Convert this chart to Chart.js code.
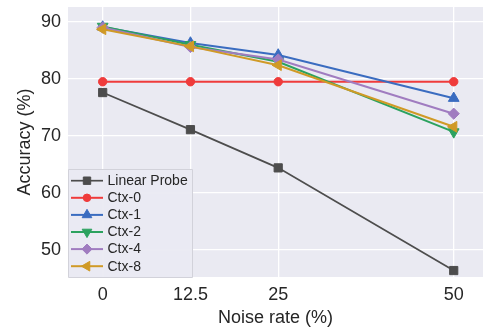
<!DOCTYPE html>
<html>
<head>
<meta charset="utf-8">
<script src="https://cdn.jsdelivr.net/npm/chart.js@4/dist/chart.umd.min.js"></script>
<style>
html,body{margin:0;padding:0;background:#fff;}
#wrap{width:484px;height:329px;position:relative;}
</style>
</head>
<body>
<div id="wrap"><canvas id="c" width="484" height="329"></canvas></div>
<script>
const noiseRates = [0, 12.5, 25, 50];
const xTickLabels = ['0', '12.5', '25', '50'];
const yTickValues = [50, 60, 70, 80, 90];
const seriesNames = ['Linear Probe', 'Ctx-0', 'Ctx-1', 'Ctx-2', 'Ctx-4', 'Ctx-8'];
const linearProbe = [77.6, 71.1, 64.4, 46.4];
const ctx0 = [79.5, 79.5, 79.5, 79.5];
const ctx1 = [89.1, 86.3, 84.2, 76.6];
const ctx2 = [89.2, 86.0, 83.0, 70.7];
const ctx4 = [89.0, 85.6, 83.4, 73.9];
const ctx8 = [88.7, 85.7, 82.4, 71.6];

const seriesValues = [linearProbe, ctx0, ctx1, ctx2, ctx4, ctx8];
const colors = ['#4d4d4d', '#ef3b3b', '#3a6cc0', '#2ca25f', '#a07cc0', '#d09a26'];
const styles = [
  {pointStyle: 'rect', radius: 5.8, rotation: 0},
  {pointStyle: 'circle', radius: 4.2, rotation: 0},
  {pointStyle: 'triangle', radius: 6.2, rotation: 0},
  {pointStyle: 'triangle', radius: 6.2, rotation: 180},
  {pointStyle: 'rectRot', radius: 5.6, rotation: 0},
  {pointStyle: 'triangle', radius: 6.2, rotation: 270}
];
const FONT = '"Liberation Sans", Arial, Helvetica, sans-serif';

const datasets = seriesNames.map((name, i) => ({
  label: name,
  data: noiseRates.map((x, j) => ({x: x, y: seriesValues[i][j]})),
  borderColor: colors[i],
  backgroundColor: colors[i],
  pointBackgroundColor: colors[i],
  pointBorderColor: colors[i],
  pointBorderWidth: 1,
  borderWidth: i === 0 ? 1.7 : 2,
  pointStyle: styles[i].pointStyle,
  pointRadius: styles[i].radius,
  pointRotation: styles[i].rotation,
  pointHoverRadius: styles[i].radius,
  tension: 0,
  order: seriesNames.length - i
}));

const bgPlugin = {
  id: 'bg',
  beforeDraw(chart) {
    const {ctx, chartArea: a} = chart;
    ctx.save();
    ctx.fillStyle = '#eaeaf2';
    ctx.fillRect(a.left, a.top, a.right - a.left, a.bottom - a.top);
    ctx.restore();
  }
};

function drawMarker(ctx, st, x, y) {
  if (Chart.helpers && Chart.helpers.drawPoint) {
    Chart.helpers.drawPoint(ctx, {pointStyle: st.pointStyle, radius: st.radius, rotation: st.rotation, borderWidth: 1}, x, y);
  } else {
    ctx.beginPath(); ctx.arc(x, y, st.radius, 0, Math.PI * 2); ctx.fill();
  }
}

const legendPlugin = {
  id: 'boxLegend',
  afterDatasetsDraw(chart) {
    const {ctx, chartArea: a} = chart;
    const left = a.left + 0.5, top = 169.5, w = 124, h = 108;
    ctx.save();
    ctx.fillStyle = 'rgba(234,234,242,0.95)';
    ctx.strokeStyle = '#d2d2da';
    ctx.lineWidth = 1;
    ctx.beginPath();
    ctx.rect(left, top, w, h);
    ctx.fill();
    ctx.stroke();
    ctx.font = '14px ' + FONT;
    ctx.textBaseline = 'middle';
    ctx.textAlign = 'left';
    seriesNames.forEach((name, i) => {
      const y = 180.7 + i * 17.1;
      ctx.strokeStyle = colors[i];
      ctx.fillStyle = colors[i];
      ctx.lineWidth = i === 0 ? 1.7 : 2;
      ctx.beginPath();
      ctx.moveTo(71, y);
      ctx.lineTo(103, y);
      ctx.stroke();
      ctx.lineWidth = 1;
      const st = Object.assign({}, styles[i], {radius: styles[i].radius * 0.9});
      drawMarker(ctx, st, 87, y);
      ctx.fillStyle = '#262626';
      ctx.fillText(name, 107.5, y + 0.5);
    });
    ctx.restore();
  }
};

function zeroPad(scale) {
  scale.paddingTop = 0; scale.paddingBottom = 0;
  scale.paddingLeft = 0; scale.paddingRight = 0;
}

new Chart(document.getElementById('c'), {
  type: 'line',
  data: {datasets: datasets},
  options: {
    responsive: false,
    animation: false,
    devicePixelRatio: 1,
    layout: {autoPadding: false, padding: {top: 7, right: 1, left: 0, bottom: 0}},
    plugins: {legend: {display: false}, tooltip: {enabled: false}},
    scales: {
      x: {
        type: 'linear',
        min: -4.94,
        max: 54.17,
        afterBuildTicks(scale) { scale.ticks = noiseRates.map(v => ({value: v})); },
        afterFit(scale) { scale.height = 52; zeroPad(scale); },
        grid: {color: '#ffffff', lineWidth: 1.3, drawTicks: false},
        border: {display: false},
        ticks: {
          padding: 7,
          color: '#262626',
          font: {family: FONT, size: 18},
          callback: (v) => { const k = noiseRates.indexOf(v); return k >= 0 ? xTickLabels[k] : ''; },
          maxRotation: 0,
          autoSkip: false
        },
        title: {display: true, text: 'Noise rate (%)', color: '#262626', font: {family: FONT, size: 18}, padding: {top: 0, bottom: 0}}
      },
      y: {
        type: 'linear',
        min: 45.27,
        max: 92.6,
        afterBuildTicks(scale) { scale.ticks = yTickValues.map(v => ({value: v})); },
        afterFit(scale) { scale.width = 68; zeroPad(scale); },
        grid: {color: '#ffffff', lineWidth: 1.3, drawTicks: false},
        border: {display: false},
        ticks: {
          padding: 7,
          color: '#262626',
          font: {family: FONT, size: 18},
          callback: (v) => String(v)
        },
        title: {display: true, text: 'Accuracy (%)', color: '#262626', font: {family: FONT, size: 18}, padding: {top: 14, bottom: 0}}
      }
    }
  },
  plugins: [bgPlugin, legendPlugin]
});
</script>
</body>
</html>
